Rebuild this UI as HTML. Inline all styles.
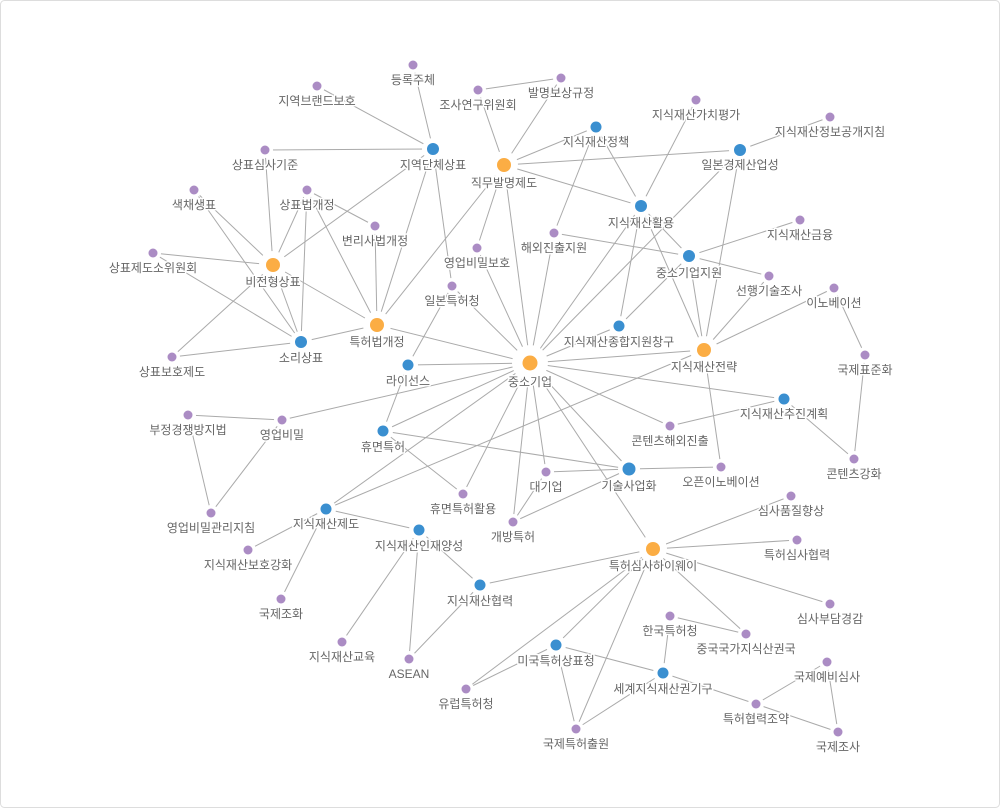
<!DOCTYPE html>
<html><head><meta charset="utf-8"><style>
html,body{margin:0;padding:0;background:#fff}
svg{display:block}
text{font-family:"Liberation Sans","Noto Sans CJK KR",sans-serif;font-size:12px;fill:#666;text-anchor:middle;stroke:#fff;stroke-width:3px;paint-order:stroke;stroke-linejoin:round}
</style></head><body>
<svg width="1000" height="808" viewBox="0 0 1000 808">
<rect x="0.5" y="0.5" width="999" height="807" rx="4" fill="#fff" stroke="#ddd"/>
<g stroke="#aaa" stroke-width="1">
<line x1="317" y1="86" x2="433" y2="149"/><line x1="413" y1="65" x2="433" y2="149"/><line x1="265" y1="150" x2="433" y2="149"/>
<line x1="433" y1="149" x2="273" y2="265"/><line x1="433" y1="149" x2="377" y2="325"/><line x1="433" y1="149" x2="452" y2="286"/>
<line x1="478" y1="90" x2="504" y2="165"/><line x1="561" y1="78" x2="504" y2="165"/><line x1="478" y1="90" x2="561" y2="78"/>
<line x1="504" y1="165" x2="596" y2="127"/><line x1="504" y1="165" x2="740" y2="150"/><line x1="504" y1="165" x2="641" y2="206"/>
<line x1="504" y1="165" x2="477" y2="248"/><line x1="504" y1="165" x2="377" y2="325"/><line x1="504" y1="165" x2="530" y2="363"/>
<line x1="265" y1="150" x2="273" y2="265"/><line x1="194" y1="190" x2="273" y2="265"/><line x1="194" y1="190" x2="301" y2="342"/>
<line x1="307" y1="190" x2="273" y2="265"/><line x1="307" y1="190" x2="301" y2="342"/><line x1="307" y1="190" x2="375" y2="226"/>
<line x1="307" y1="190" x2="377" y2="325"/><line x1="153" y1="253" x2="273" y2="265"/><line x1="153" y1="253" x2="301" y2="342"/>
<line x1="273" y1="265" x2="172" y2="357"/><line x1="273" y1="265" x2="301" y2="342"/><line x1="273" y1="265" x2="377" y2="325"/>
<line x1="172" y1="357" x2="301" y2="342"/><line x1="375" y1="226" x2="377" y2="325"/><line x1="301" y1="342" x2="377" y2="325"/>
<line x1="377" y1="325" x2="530" y2="363"/><line x1="452" y1="286" x2="408" y2="365"/><line x1="452" y1="286" x2="530" y2="363"/>
<line x1="477" y1="248" x2="530" y2="363"/><line x1="408" y1="365" x2="530" y2="363"/><line x1="408" y1="365" x2="383" y2="431"/>
<line x1="282" y1="420" x2="530" y2="363"/><line x1="188" y1="415" x2="282" y2="420"/><line x1="188" y1="415" x2="211" y2="513"/>
<line x1="282" y1="420" x2="211" y2="513"/><line x1="383" y1="431" x2="530" y2="363"/><line x1="383" y1="431" x2="463" y2="494"/>
<line x1="383" y1="431" x2="629" y2="469"/><line x1="326" y1="509" x2="530" y2="363"/><line x1="326" y1="509" x2="704" y2="350"/>
<line x1="326" y1="509" x2="419" y2="530"/><line x1="326" y1="509" x2="248" y2="550"/><line x1="326" y1="509" x2="281" y2="599"/>
<line x1="419" y1="530" x2="342" y2="642"/><line x1="419" y1="530" x2="409" y2="659"/><line x1="419" y1="530" x2="480" y2="585"/>
<line x1="480" y1="585" x2="409" y2="659"/><line x1="480" y1="585" x2="653" y2="549"/>
<line x1="463" y1="494" x2="530" y2="363"/><line x1="513" y1="522" x2="530" y2="363"/><line x1="513" y1="522" x2="546" y2="472"/>
<line x1="513" y1="522" x2="629" y2="469"/><line x1="546" y1="472" x2="530" y2="363"/><line x1="546" y1="472" x2="629" y2="469"/>
<line x1="530" y1="363" x2="629" y2="469"/><line x1="530" y1="363" x2="653" y2="549"/><line x1="530" y1="363" x2="670" y2="426"/>
<line x1="530" y1="363" x2="784" y2="399"/><line x1="530" y1="363" x2="704" y2="350"/><line x1="530" y1="363" x2="619" y2="326"/>
<line x1="530" y1="363" x2="641" y2="206"/><line x1="530" y1="363" x2="740" y2="150"/><line x1="530" y1="363" x2="554" y2="233"/>
<line x1="596" y1="127" x2="554" y2="233"/><line x1="596" y1="127" x2="641" y2="206"/><line x1="554" y1="233" x2="689" y2="256"/>
<line x1="641" y1="206" x2="696" y2="100"/><line x1="641" y1="206" x2="689" y2="256"/><line x1="641" y1="206" x2="704" y2="350"/>
<line x1="641" y1="206" x2="619" y2="326"/><line x1="689" y1="256" x2="800" y2="220"/><line x1="689" y1="256" x2="769" y2="276"/>
<line x1="689" y1="256" x2="704" y2="350"/><line x1="689" y1="256" x2="619" y2="326"/><line x1="740" y1="150" x2="830" y2="117"/>
<line x1="740" y1="150" x2="704" y2="350"/><line x1="704" y1="350" x2="834" y2="288"/><line x1="704" y1="350" x2="769" y2="276"/>
<line x1="704" y1="350" x2="721" y2="467"/><line x1="834" y1="288" x2="865" y2="355"/><line x1="865" y1="355" x2="854" y2="459"/>
<line x1="784" y1="399" x2="854" y2="459"/><line x1="784" y1="399" x2="670" y2="426"/><line x1="629" y1="469" x2="721" y2="467"/>
<line x1="653" y1="549" x2="791" y2="496"/><line x1="653" y1="549" x2="797" y2="540"/><line x1="653" y1="549" x2="830" y2="604"/>
<line x1="653" y1="549" x2="746" y2="634"/><line x1="653" y1="549" x2="556" y2="645"/><line x1="653" y1="549" x2="466" y2="689"/>
<line x1="653" y1="549" x2="576" y2="729"/><line x1="670" y1="616" x2="746" y2="634"/><line x1="670" y1="616" x2="663" y2="673"/>
<line x1="556" y1="645" x2="663" y2="673"/><line x1="556" y1="645" x2="466" y2="689"/><line x1="556" y1="645" x2="576" y2="729"/>
<line x1="663" y1="673" x2="576" y2="729"/><line x1="663" y1="673" x2="756" y2="704"/><line x1="756" y1="704" x2="827" y2="662"/>
<line x1="756" y1="704" x2="838" y2="732"/><line x1="827" y1="662" x2="838" y2="732"/>
</g>
<g fill="#fff">
<circle cx="530" cy="363" r="18"/><circle cx="504" cy="165" r="14"/><circle cx="273" cy="265" r="14"/><circle cx="377" cy="325" r="14"/><circle cx="704" cy="350" r="14"/><circle cx="653" cy="549" r="14"/>
<circle cx="433" cy="149" r="11"/><circle cx="301" cy="342" r="11"/><circle cx="641" cy="206" r="11"/><circle cx="689" cy="256" r="11"/><circle cx="740" cy="150" r="11"/><circle cx="596" cy="127" r="10"/><circle cx="619" cy="326" r="10"/><circle cx="408" cy="365" r="10"/><circle cx="383" cy="431" r="10"/><circle cx="326" cy="509" r="10"/><circle cx="419" cy="530" r="10"/><circle cx="480" cy="585" r="10"/><circle cx="629" cy="469" r="11"/><circle cx="784" cy="399" r="10"/><circle cx="556" cy="645" r="10"/><circle cx="663" cy="673" r="10"/>
<circle cx="413" cy="65" r="8"/><circle cx="317" cy="86" r="8"/><circle cx="478" cy="90" r="8"/><circle cx="561" cy="78" r="8"/><circle cx="265" cy="150" r="8"/><circle cx="194" cy="190" r="8"/><circle cx="307" cy="190" r="8"/><circle cx="375" cy="226" r="8"/><circle cx="153" cy="253" r="8"/><circle cx="477" cy="248" r="8"/><circle cx="452" cy="286" r="8"/><circle cx="172" cy="357" r="8"/><circle cx="696" cy="100" r="8"/><circle cx="830" cy="117" r="8"/><circle cx="554" cy="233" r="8"/><circle cx="800" cy="220" r="8"/><circle cx="769" cy="276" r="8"/><circle cx="834" cy="288" r="8"/><circle cx="865" cy="355" r="8"/><circle cx="188" cy="415" r="8"/><circle cx="282" cy="420" r="8"/><circle cx="211" cy="513" r="8"/><circle cx="248" cy="550" r="8"/><circle cx="281" cy="599" r="8"/><circle cx="463" cy="494" r="8"/><circle cx="546" cy="472" r="8"/><circle cx="513" cy="522" r="8"/><circle cx="342" cy="642" r="8"/><circle cx="409" cy="659" r="8"/><circle cx="466" cy="689" r="8"/><circle cx="670" cy="426" r="8"/><circle cx="721" cy="467" r="8"/><circle cx="854" cy="459" r="8"/><circle cx="791" cy="496" r="8"/><circle cx="797" cy="540" r="8"/><circle cx="830" cy="604" r="8"/><circle cx="670" cy="616" r="8"/><circle cx="746" cy="634" r="8"/><circle cx="827" cy="662" r="8"/><circle cx="756" cy="704" r="8"/><circle cx="838" cy="732" r="8"/><circle cx="576" cy="729" r="8"/>
</g>
<g fill="#fbad44">
<circle cx="530" cy="363" r="7.5"/><circle cx="504" cy="165" r="7"/><circle cx="273" cy="265" r="7"/><circle cx="377" cy="325" r="7"/><circle cx="704" cy="350" r="7"/><circle cx="653" cy="549" r="7"/>
</g>
<g fill="#3a8fd0">
<circle cx="433" cy="149" r="6"/><circle cx="301" cy="342" r="6"/><circle cx="641" cy="206" r="6"/><circle cx="689" cy="256" r="6"/><circle cx="740" cy="150" r="6"/><circle cx="596" cy="127" r="5.5"/><circle cx="619" cy="326" r="5.5"/><circle cx="408" cy="365" r="5.5"/><circle cx="383" cy="431" r="5.5"/><circle cx="326" cy="509" r="5.5"/><circle cx="419" cy="530" r="5.5"/><circle cx="480" cy="585" r="5.5"/><circle cx="629" cy="469" r="6.5"/><circle cx="784" cy="399" r="5.5"/><circle cx="556" cy="645" r="5.5"/><circle cx="663" cy="673" r="5.5"/>
</g>
<g fill="#ab8cc4">
<circle cx="413" cy="65" r="4.5"/><circle cx="317" cy="86" r="4.5"/><circle cx="478" cy="90" r="4.5"/><circle cx="561" cy="78" r="4.5"/><circle cx="265" cy="150" r="4.5"/><circle cx="194" cy="190" r="4.5"/><circle cx="307" cy="190" r="4.5"/><circle cx="375" cy="226" r="4.5"/><circle cx="153" cy="253" r="4.5"/><circle cx="477" cy="248" r="4.5"/><circle cx="452" cy="286" r="4.5"/><circle cx="172" cy="357" r="4.5"/><circle cx="696" cy="100" r="4.5"/><circle cx="830" cy="117" r="4.5"/><circle cx="554" cy="233" r="4.5"/><circle cx="800" cy="220" r="4.5"/><circle cx="769" cy="276" r="4.5"/><circle cx="834" cy="288" r="4.5"/><circle cx="865" cy="355" r="4.5"/><circle cx="188" cy="415" r="4.5"/><circle cx="282" cy="420" r="4.5"/><circle cx="211" cy="513" r="4.5"/><circle cx="248" cy="550" r="4.5"/><circle cx="281" cy="599" r="4.5"/><circle cx="463" cy="494" r="4.5"/><circle cx="546" cy="472" r="4.5"/><circle cx="513" cy="522" r="4.5"/><circle cx="342" cy="642" r="4.5"/><circle cx="409" cy="659" r="4.5"/><circle cx="466" cy="689" r="4.5"/><circle cx="670" cy="426" r="4.5"/><circle cx="721" cy="467" r="4.5"/><circle cx="854" cy="459" r="4.5"/><circle cx="791" cy="496" r="4.5"/><circle cx="797" cy="540" r="4.5"/><circle cx="830" cy="604" r="4.5"/><circle cx="670" cy="616" r="4.5"/><circle cx="746" cy="634" r="4.5"/><circle cx="827" cy="662" r="4.5"/><circle cx="756" cy="704" r="4.5"/><circle cx="838" cy="732" r="4.5"/><circle cx="576" cy="729" r="4.5"/>
</g>
<g>
<text x="530" y="386">중소기업</text><text x="504" y="187">직무발명제도</text><text x="273" y="286">비전형상표</text><text x="377" y="346">특허법개정</text><text x="704" y="371">지식재산전략</text><text x="653" y="570">특허심사하이웨이</text>
<text x="433" y="169">지역단체상표</text><text x="301" y="362">소리상표</text><text x="641" y="227">지식재산활용</text><text x="689" y="277">중소기업지원</text><text x="740" y="169">일본경제산업성</text><text x="596" y="146">지식재산정책</text><text x="619" y="346">지식재산종합지원창구</text><text x="408" y="385">라이선스</text><text x="383" y="451">휴면특허</text><text x="326" y="528">지식재산제도</text><text x="419" y="550">지식재산인재양성</text><text x="480" y="605">지식재산협력</text><text x="629" y="490">기술사업화</text><text x="784" y="418">지식재산추진계획</text><text x="556" y="665">미국특허상표청</text><text x="663" y="693">세계지식재산권기구</text>
<text x="413" y="84">등록주체</text><text x="317" y="105">지역브랜드보호</text><text x="478" y="109">조사연구위원회</text><text x="561" y="97">발명보상규정</text><text x="265" y="169">상표심사기준</text><text x="194" y="209">색채생표</text><text x="307" y="209">상표법개정</text><text x="375" y="245">변리사법개정</text><text x="153" y="272">상표제도소위원회</text><text x="477" y="267">영업비밀보호</text><text x="452" y="305">일본특허청</text><text x="172" y="376">상표보호제도</text><text x="696" y="119">지식재산가치평가</text><text x="830" y="136">지식재산정보공개지침</text><text x="554" y="252">해외진출지원</text><text x="800" y="239">지식재산금융</text><text x="769" y="295">선행기술조사</text><text x="834" y="307">이노베이션</text><text x="865" y="374">국제표준화</text><text x="188" y="434">부정경쟁방지법</text><text x="282" y="439">영업비밀</text><text x="211" y="532">영업비밀관리지침</text><text x="248" y="569">지식재산보호강화</text><text x="281" y="618">국제조화</text><text x="463" y="513">휴면특허활용</text><text x="546" y="491">대기업</text><text x="513" y="541">개방특허</text><text x="342" y="661">지식재산교육</text><text x="409" y="678">ASEAN</text><text x="466" y="708">유럽특허청</text><text x="670" y="445">콘텐츠해외진출</text><text x="721" y="486">오픈이노베이션</text><text x="854" y="478">콘텐츠강화</text><text x="791" y="515">심사품질향상</text><text x="797" y="559">특허심사협력</text><text x="830" y="623">심사부담경감</text><text x="670" y="635">한국특허청</text><text x="746" y="653">중국국가지식산권국</text><text x="827" y="681">국제예비심사</text><text x="756" y="723">특허협력조약</text><text x="838" y="751">국제조사</text><text x="576" y="748">국제특허출원</text>
</g>
</svg>
</body></html>
